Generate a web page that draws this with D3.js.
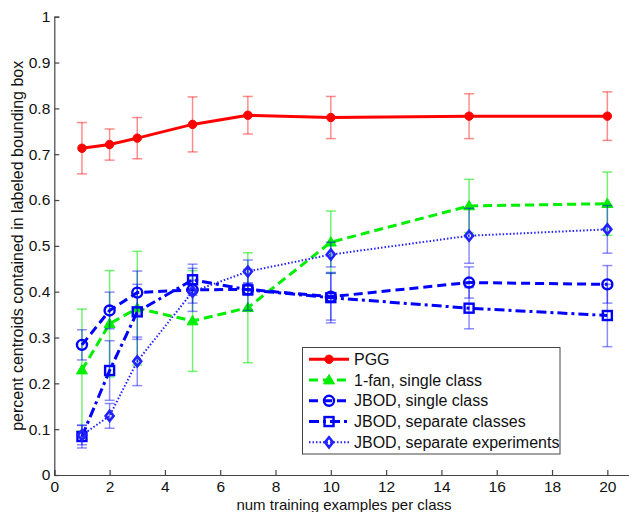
<!DOCTYPE html>
<html><head><meta charset="utf-8">
<script src="https://d3js.org/d3.v7.min.js"></script>
<style>html,body{margin:0;padding:0;background:#fff;}svg{display:block;font-family:"Liberation Sans",Arial,sans-serif;}</style>
</head><body>
<svg id="c" width="629" height="512"></svg>
<script>
const xVals = [1, 2, 3, 5, 7, 10, 15, 20];
const pgg = [0.713, 0.721, 0.735, 0.765, 0.785, 0.780, 0.783, 0.783];
const pggErr = [0.056, 0.034, 0.045, 0.060, 0.041, 0.046, 0.049, 0.053];
const fan = [0.229, 0.330, 0.364, 0.336, 0.365, 0.508, 0.587, 0.592];
const fanErr = [0.133, 0.116, 0.124, 0.110, 0.120, 0.068, 0.058, 0.069];
const jSingle = [0.284, 0.359, 0.398, 0.404, 0.405, 0.389, 0.420, 0.416];
const jSingleErr = [0.033, 0.040, 0.047, 0.047, 0.013, 0.051, 0.034, 0.041];
const jSepCls = [0.084, 0.228, 0.356, 0.426, 0.404, 0.387, 0.364, 0.348];
const jSepClsErr = [0.025, 0.065, 0.060, 0.034, 0.045, 0.055, 0.045, 0.068];
const jSepExp = [0.087, 0.129, 0.248, 0.400, 0.444, 0.481, 0.522, 0.536];
const jSepExpErr = [0.021, 0.027, 0.053, 0.025, 0.025, 0.027, 0.060, 0.052];
const seriesNames = ["PGG", "1-fan, single class", "JBOD, single class", "JBOD, separate classes", "JBOD, separate experiments"];
const xTicks = [0, 2, 4, 6, 8, 10, 12, 14, 16, 18, 20];
const yTicks = [0, 0.1, 0.2, 0.3, 0.4, 0.5, 0.6, 0.7, 0.8, 0.9, 1];
const xTitle = "num training examples per class";
const yTitle = "percent centroids contained in labeled bounding box";

const series = [
  {name: seriesNames[0], v: pgg, e: pggErr, color: "#ff0000", ecolor: "rgba(255,0,0,0.45)", w: 3, dash: null, marker: "dot"},
  {name: seriesNames[1], v: fan, e: fanErr, color: "#00ee00", ecolor: "rgba(0,230,0,0.55)", w: 3, dash: "9,5", marker: "tri"},
  {name: seriesNames[2], v: jSingle, e: jSingleErr, color: "#0000ff", ecolor: "rgba(0,0,255,0.45)", w: 3, dash: "9,5", marker: "circ"},
  {name: seriesNames[3], v: jSepCls, e: jSepClsErr, color: "#0000ff", ecolor: "rgba(0,0,255,0.45)", w: 3, dash: "10,4,3,4", marker: "sq"},
  {name: seriesNames[4], v: jSepExp, e: jSepExpErr, color: "#2222ff", ecolor: "rgba(0,0,255,0.45)", w: 2, dash: "1.5,2", marker: "dia"}
];

const svg = d3.select("#c");
const x = d3.scaleLinear().domain([0, 21]).range([54.3, 635]);
const y = d3.scaleLinear().domain([0, 1]).range([475, 16.7]);
const axisColor = "#444";

// axes
const gx = svg.append("g").attr("transform", `translate(0,${y(0)})`)
  .call(d3.axisBottom(x).tickValues(xTicks).tickSize(-5).tickPadding(6).tickFormat(d3.format("d")));
const gy = svg.append("g").attr("transform", `translate(${x(0)},0)`)
  .call(d3.axisLeft(y).tickValues(yTicks).tickSize(-5).tickPadding(4).tickFormat(d => d === 0 ? "0" : d === 1 ? "1" : d3.format(".1f")(d)));
[gx, gy].forEach(g => {
  g.select(".domain").attr("stroke", axisColor).attr("stroke-width", 1.2);
  g.selectAll(".tick line").attr("stroke", axisColor).attr("stroke-width", 1.2);
  g.selectAll(".tick text").attr("fill", "#111").style("font-size", "15.5px").style("font-family", "Liberation Sans, Arial, sans-serif");
});
gx.selectAll(".tick text").attr("dy", "0.71em");

svg.append("text").attr("x", 344).attr("y", 509.5).attr("text-anchor", "middle")
  .style("font-size", "15px").attr("fill", "#111").text(xTitle);
svg.append("text").attr("transform", `translate(23,${(y(0) + y(1)) / 2}) rotate(-90)`).attr("text-anchor", "middle")
  .style("font-size", "16px").attr("fill", "#111").text(yTitle);

function drawMarker(g, type, cx, cy, color) {
  if (type === "dot") {
    g.append("circle").attr("cx", cx).attr("cy", cy).attr("r", 4.2).attr("fill", color).attr("stroke", color).attr("stroke-width", 1);
  } else if (type === "tri") {
    const s = 5.5;
    g.append("path").attr("d", `M${cx},${cy - s}L${cx + s},${cy + s * 0.7}L${cx - s},${cy + s * 0.7}Z`).attr("fill", color).attr("stroke", color).attr("stroke-width", 1);
  } else if (type === "circ") {
    g.append("circle").attr("cx", cx).attr("cy", cy).attr("r", 5).attr("fill", "none").attr("stroke", color).attr("stroke-width", 2.4);
  } else if (type === "sq") {
    g.append("rect").attr("x", cx - 4.5).attr("y", cy - 4.5).attr("width", 9).attr("height", 9).attr("fill", "none").attr("stroke", color).attr("stroke-width", 2.4);
  } else if (type === "dia") {
    const s = 5;
    g.append("path").attr("d", `M${cx},${cy - s}L${cx + s * 0.8},${cy}L${cx},${cy + s}L${cx - s * 0.8},${cy}Z`).attr("fill", "none").attr("stroke", color).attr("stroke-width", 2.6);
  }
}

const line = d3.line().x(d => x(d[0])).y(d => y(d[1]));
series.forEach(s => {
  const g = svg.append("g");
  xVals.forEach((xv, i) => {
    const lo = y(s.v[i] - s.e[i]), hi = y(s.v[i] + s.e[i]), cx = x(xv);
    g.append("line").attr("x1", cx).attr("x2", cx).attr("y1", lo).attr("y2", hi).attr("stroke", s.ecolor).attr("stroke-width", 1.5);
    [lo, hi].forEach(yy => g.append("line").attr("x1", cx - 5).attr("x2", cx + 5).attr("y1", yy).attr("y2", yy).attr("stroke", s.ecolor).attr("stroke-width", 1.5));
  });
  const pts = xVals.map((xv, i) => [xv, s.v[i]]);
  g.append("path").attr("d", line(pts)).attr("fill", "none").attr("stroke", s.color).attr("stroke-width", s.w)
    .attr("stroke-dasharray", s.dash).attr("stroke-linejoin", "round");
  pts.forEach(p => drawMarker(g, s.marker, x(p[0]), y(p[1]), s.color));
});

// legend
const lg = svg.append("g");
lg.append("rect").attr("x", 302.5).attr("y", 347.5).attr("width", 257.5).attr("height", 106.5)
  .attr("fill", "#fff").attr("stroke", "#444").attr("stroke-width", 1);
series.forEach((s, i) => {
  const cy = 359.3 + i * 20.75;
  lg.append("line").attr("x1", 309).attr("x2", 349).attr("y1", cy).attr("y2", cy)
    .attr("stroke", s.color).attr("stroke-width", s.w).attr("stroke-dasharray", s.dash);
  drawMarker(lg, s.marker, 329, cy, s.color);
  lg.append("text").attr("x", 354).attr("y", cy).attr("dy", "0.35em").style("font-size", "16px").attr("fill", "#111").text(s.name);
});
</script>
</body></html>
